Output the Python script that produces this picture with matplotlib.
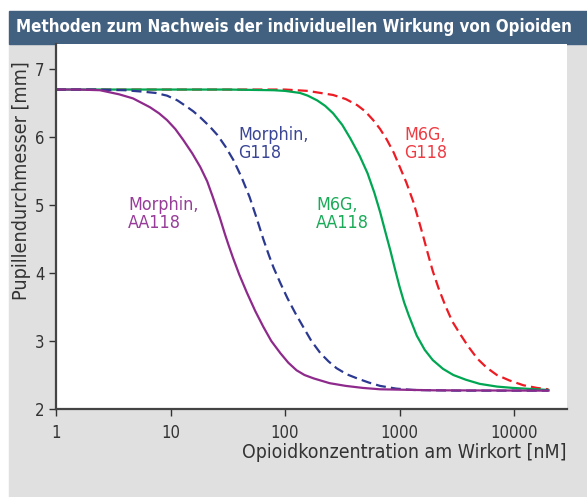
import numpy as np
import matplotlib
matplotlib.use("Agg")
import matplotlib.pyplot as plt
from matplotlib import font_manager as fm

## pick a narrow font if one is installed
names = {f.name for f in fm.fontManager.ttflist}
cond = [f for f in fm.fontManager.ttflist if 'Condensed' in f.fname and f.name == 'DejaVu Sans']
if 'Liberation Sans Narrow' in names:
    fam, stretch = 'Liberation Sans Narrow', 'normal'
elif cond:
    fam, stretch = 'DejaVu Sans', 'condensed'
else:
    fam, stretch = 'Roboto', 'normal'
plt.rcParams['font.family'] = [fam, 'DejaVu Sans']
plt.rcParams['font.stretch'] = stretch

## Concentrations [nM] and pupil diameter [mm]
conc_morph_aa = [1, 1.58, 2.42, 3.55, 4.7, 6.61, 7.94, 9.33, 11.0, 12.9, 15.5,
                 18.2, 20.9, 23.4, 26.9, 29.9, 32.0, 35.2, 39.8, 46.5, 55.0,
                 64.6, 75.9, 91.2, 107, 126, 148, 178, 245, 339, 479, 676,
                 1995, 19950]
pd_morph_aa = [6.70, 6.70, 6.69, 6.63, 6.57, 6.44, 6.35, 6.25, 6.12, 5.96, 5.76,
               5.56, 5.35, 5.12, 4.82, 4.57, 4.42, 4.22, 3.98, 3.71, 3.44,
               3.21, 3.00, 2.82, 2.68, 2.57, 2.50, 2.45, 2.38, 2.34, 2.31, 2.29,
               2.275, 2.27]

conc_morph_g = [1, 2.0, 3.98, 5.62, 7.41, 9.33, 11.5, 13.8, 15.8, 18.2, 21.9,
                25.7, 30.2, 35.5, 41.7, 49.0, 56.2, 64.6, 72.4, 79.4, 91.2,
                105, 123, 145, 170, 204, 240, 282, 347, 427, 537, 676, 933,
                1318, 3162, 19950]
pd_morph_g = [6.70, 6.70, 6.69, 6.67, 6.65, 6.61, 6.54, 6.45, 6.38, 6.29, 6.16,
              6.03, 5.86, 5.66, 5.41, 5.12, 4.82, 4.50, 4.26, 4.08, 3.85,
              3.63, 3.41, 3.20, 3.00, 2.82, 2.70, 2.60, 2.51, 2.45, 2.39, 2.34, 2.30,
              2.28, 2.27, 2.27]

conc_m6g_aa = [1, 31.6, 79.4, 100, 135, 158, 191, 224, 263, 316, 372, 447,
               525, 603, 676, 759, 832, 912, 1000, 1096, 1202, 1413, 1660,
               1950, 2399, 2951, 3802, 5012, 7079, 9772, 19950]
pd_m6g_aa = [6.70, 6.70, 6.69, 6.68, 6.65, 6.61, 6.54, 6.46, 6.35, 6.18, 5.98, 5.73,
             5.47, 5.18, 4.90, 4.58, 4.33, 4.06, 3.80, 3.57, 3.38, 3.08, 2.87,
             2.72, 2.59, 2.50, 2.43, 2.37, 2.33, 2.31, 2.28]

conc_m6g_g = [1, 100, 158, 263, 339, 427, 501, 589, 676, 776, 891, 1000,
              1148, 1318, 1479, 1622, 1778, 1950, 2188, 2512, 2884, 3388,
              3981, 4786, 5754, 7079, 9120, 12023, 15849, 19950]
pd_m6g_g = [6.70, 6.70, 6.68, 6.62, 6.56, 6.47, 6.38, 6.25, 6.12, 5.96, 5.77, 5.57,
            5.33, 5.05, 4.76, 4.52, 4.27, 4.03, 3.78, 3.52, 3.29, 3.10,
            2.92, 2.74, 2.61, 2.50, 2.42, 2.35, 2.31, 2.29]

xticks = [1, 10, 100, 1000, 10000]
xticklabels = ['1', '10', '100', '1000', '10000']
yticks = [2, 3, 4, 5, 6, 7]

c_purple = '#8E2A8C'
c_blue = '#2B3990'
c_green = '#00A651'
c_red = '#ED1C24'

W, H = 587, 497
fig = plt.figure(figsize=(W / 100, H / 100), dpi=100)
fig.patch.set_facecolor('white')

## gray panel and title bar
fig.add_artist(plt.Rectangle((9 / W, 0), 1 - 9 / W, (H - 44) / H,
                             transform=fig.transFigure, color='#E0E0E0', zorder=-10))
fig.add_artist(plt.Rectangle((9 / W, (H - 44) / H), 1 - 9 / W, 33 / H,
                             transform=fig.transFigure, color='#42607F', zorder=-10))

ax = fig.add_axes([56 / W, (H - 409) / H, (567 - 56) / W, (409 - 44) / H])
ax.set_facecolor('white')

lw = 1.6
ax.plot(conc_m6g_g, pd_m6g_g, color=c_red, lw=lw, dashes=(4.5, 2.3))
ax.plot(conc_m6g_aa, pd_m6g_aa, color=c_green, lw=lw)
ax.plot(conc_morph_g, pd_morph_g, color=c_blue, lw=lw, dashes=(4.5, 2.3))
ax.plot(conc_morph_aa, pd_morph_aa, color=c_purple, lw=lw)

ax.set_xscale('log')
ax.set_xlim(1, 29000)
ax.set_ylim(2, 7.37)
ax.set_xticks(xticks)
ax.set_xticklabels(xticklabels)
ax.minorticks_off()
ax.set_yticks(yticks)

for s in ['top', 'right']:
    ax.spines[s].set_visible(False)
for s in ['left', 'bottom']:
    ax.spines[s].set_color('#444444')
    ax.spines[s].set_linewidth(1.6)
ax.tick_params(axis='both', colors='#333333', labelsize=12, direction='out',
               length=5, width=1)
ax.tick_params(axis='x', pad=6)

title = fig.text(16 / W, (H - 27.5) / H,
                 'Methoden zum Nachweis der individuellen Wirkung von Opioiden',
                 color='white', fontsize=14, fontweight='bold', va='center', ha='left')
xlab = fig.text(567 / W, (H - 452) / H, 'Opioidkonzentration am Wirkort [nM]',
                fontsize=13.5, color='#333333', ha='right', va='center')
ylab = fig.text(22 / W, (H - 181) / H, 'Pupillendurchmesser [mm]', rotation=90,
                fontsize=13.5, color='#333333', ha='center', va='center')

## curve labels, x given in pixels of the reference
fs = 12.8
labels = [(128, 4.87, 'Morphin,\nAA118', '#973C98'),
          (238, 5.90, 'Morphin,\nG118', '#3B4596'),
          (316, 4.87, 'M6G,\nAA118', '#1AAA58'),
          (404, 5.90, 'M6G,\nG118', '#EF3B42')]
for px, y, txt, col in labels:
    ax.text(10 ** ((px - 56) / 114.5), y, txt, color=col, fontsize=fs,
            va='center', ha='left', linespacing=1.0)

## scale texts to the widths seen in the reference
r = fig.canvas.get_renderer()
for t, target in [(title, 563), (xlab, 322)]:
    w = t.get_window_extent(r).width
    t.set_fontsize(t.get_fontsize() * target / w)
h = ylab.get_window_extent(r).height
ylab.set_fontsize(ylab.get_fontsize() * 238 / h)

fig.savefig('out.png', dpi=100, facecolor=fig.get_facecolor())
